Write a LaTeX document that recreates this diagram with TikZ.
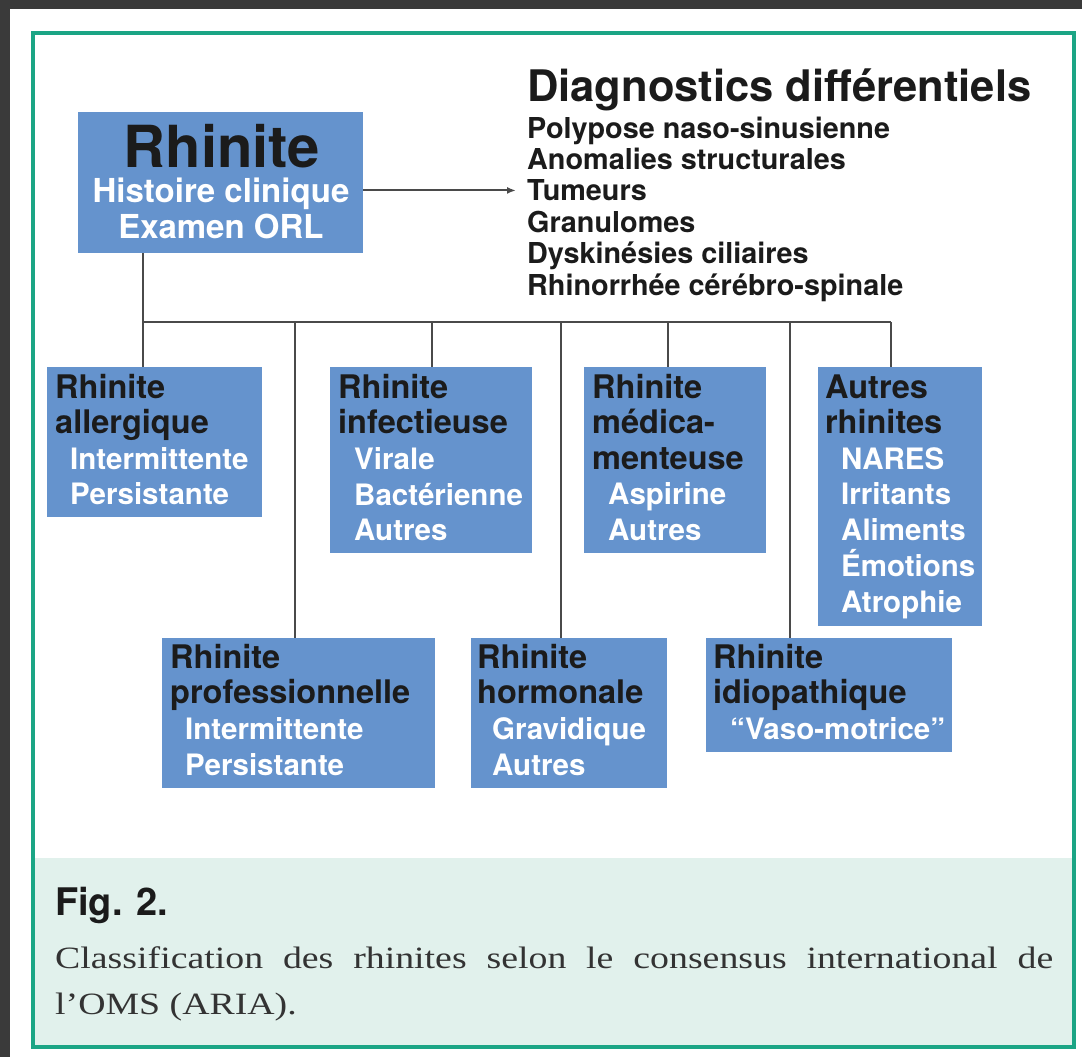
\documentclass[tikz,border=0pt]{standalone}
\usepackage{fontspec}
\setmainfont{TeX Gyre Heros}
\newfontfamily\capserif[FakeStretch=1.22]{Liberation Serif}
\usetikzlibrary{arrows.meta,calc}
\definecolor{boxblue}{HTML}{6593CD}
\definecolor{framegreen}{HTML}{1BA585}
\definecolor{capfill}{HTML}{E1F1EC}
\definecolor{darkbg}{HTML}{3A3A3A}
\definecolor{linegray}{HTML}{4A4A4A}
\definecolor{hdcol}{HTML}{1B1B1B}
\newcommand\fhd{\fontsize{32.5}{35}\selectfont\bfseries}
\newcommand\fsub{\fontsize{29.5}{35}\selectfont\bfseries}
\newcommand\fbig{\fontsize{58}{60}\selectfont\bfseries}
\newcommand\fmainsub{\fontsize{33}{36}\selectfont\bfseries}
\newcommand\fdtitle{\fontsize{43.5}{46}\selectfont\bfseries}
\newcommand\fdlist{\fontsize{28.8}{31}\selectfont\bfseries}
\newcommand\ffig{\fontsize{38}{40}\selectfont\bfseries}
\newcommand\fcap{\capserif\fontsize{31}{34}\selectfont}
\begin{document}
\begin{tikzpicture}[x=1pt,y=-1pt,
  box/.style={fill=boxblue, draw=none, anchor=north west, inner sep=0},
  hdr/.style={anchor=base west, inner sep=0, font=\fhd, text=hdcol},
  subi/.style={anchor=base west, inner sep=0, font=\fsub, text=white},
  dl/.style={anchor=base west, inner sep=0, font=\fdlist, text=hdcol},
  conn/.style={draw=linegray, line width=2pt}]
\useasboundingbox (0,0) rectangle (1082,1057);
% page background
\fill[darkbg] (0,0) rectangle (1082,1057);
\fill[white] (10,9) rectangle (1082,1057);
% caption area and frame
\fill[capfill] (32,858) rectangle (1074,1047);
\draw[framegreen, line width=4pt] (32.5,33.5) rectangle (1074,1047);

% main box
\node[box, minimum width=285pt, minimum height=141pt] (main) at (78,112) {};
\node[anchor=base, inner sep=0, font=\fbig, text=hdcol] (mainT) at (222,167) {Rhinite};
\node[anchor=base, inner sep=0, font=\fmainsub, text=white] (mainA) at (221,202) {Histoire clinique};
\node[anchor=base, inner sep=0, font=\fmainsub, text=white] (mainB) at (221,238) {Examen ORL};

% differential diagnoses
\node[anchor=base west, inner sep=0, font=\fdtitle, text=hdcol] (dtitle) at (527,101) {Diagnostics différentiels};
\node[dl] (d1) at (527,138) {Polypose naso-sinusienne};
\node[dl] (d2) at (527,169.4) {Anomalies structurales};
\node[dl] (d3) at (527,200.8) {Tumeurs};
\node[dl] (d4) at (527,232.2) {Granulomes};
\node[dl] (d5) at (527,263.6) {Dyskinésies ciliaires};
\node[dl] (d6) at (527,295) {Rhinorrhée cérébro-spinale};
\draw[conn, -{Latex[length=9pt,width=7pt]}] (main.east |- d3.west) -- ([xshift=-11pt]d3.west);

% category boxes
\node[box, minimum width=215pt, minimum height=150pt] (allerg) at (47,367) {};
\node[hdr] (allergA) at (55,398) {Rhinite};
\node[hdr] (allergB) at (55,433) {allergique};
\node[subi] (allergC) at (70,469) {Intermittente};
\node[subi] (allergD) at (70,504) {Persistante};

\node[box, minimum width=202pt, minimum height=186pt] (infect) at (330,367) {};
\node[hdr] (infectA) at (338,398) {Rhinite};
\node[hdr] (infectB) at (338,433) {infectieuse};
\node[subi] (infectC) at (354,469) {Virale};
\node[subi] (infectD) at (354,505) {Bactérienne};
\node[subi] (infectE) at (354,540) {Autres};

\node[box, minimum width=182pt, minimum height=186pt] (medic) at (584,367) {};
\node[hdr] (medicA) at (592,398) {Rhinite};
\node[hdr] (medicB) at (592,433) {médica-};
\node[hdr] (medicC) at (592,469) {menteuse};
\node[subi] (medicD) at (608,504) {Aspirine};
\node[subi] (medicE) at (608,540) {Autres};

\node[box, minimum width=164pt, minimum height=259pt] (autres) at (818,367) {};
\node[hdr] (autresA) at (825,398) {Autres};
\node[hdr] (autresB) at (825,433) {rhinites};
\node[subi] (autresC) at (841,469) {NARES};
\node[subi] (autresD) at (841,504) {Irritants};
\node[subi] (autresE) at (841,540) {Aliments};
\node[subi] (autresF) at (841,576) {Émotions};
\node[subi] (autresG) at (841,612) {Atrophie};

\node[box, minimum width=273pt, minimum height=150pt] (prof) at (162,638) {};
\node[hdr] (profA) at (170,668) {Rhinite};
\node[hdr] (profB) at (170,703) {professionnelle};
\node[subi] (profC) at (185,739) {Intermittente};
\node[subi] (profD) at (185,775) {Persistante};

\node[box, minimum width=196pt, minimum height=150pt] (horm) at (471,638) {};
\node[hdr] (hormA) at (477,668) {Rhinite};
\node[hdr] (hormB) at (477,703) {hormonale};
\node[subi] (hormC) at (492,739) {Gravidique};
\node[subi] (hormD) at (492,775) {Autres};

\node[box, minimum width=246pt, minimum height=114pt] (idio) at (706,638) {};
\node[hdr] (idioA) at (713,668) {Rhinite};
\node[hdr] (idioB) at (713,703) {idiopathique};
\node[subi] (idioC) at (730,739) {“Vaso-motrice”};

% connectors
\coordinate (b0) at (143,322);
\coordinate (bP) at (295,322);
\coordinate (bI) at (432,322);
\coordinate (bH) at (561,322);
\coordinate (bM) at (668,322);
\coordinate (bD) at (790,322);
\coordinate (bA) at (891,322);
\draw[conn] (main.south -| b0) -- (b0) -- (bA);
\draw[conn] (b0) -- (allerg.north -| b0);
\draw[conn] (bP) -- (prof.north -| bP);
\draw[conn] (bI) -- (infect.north -| bI);
\draw[conn] (bH) -- (horm.north -| bH);
\draw[conn] (bM) -- (medic.north -| bM);
\draw[conn] (bD) -- (idio.north -| bD);
\draw[conn] (bA) -- (autres.north -| bA);

% caption
\node[anchor=base west, inner sep=0, font=\ffig, text=hdcol] (fig) at (55,915) {Fig. 2.};
\node[anchor=base west, inner sep=0, font=\fcap, text=black!80] (cap1) at (55,968) {\makebox[998pt][s]{Classification des rhinites selon le consensus international de}};
\node[anchor=base west, inner sep=0, font=\fcap, text=black!80] (cap2) at (55,1014) {l’OMS (ARIA).};
\end{tikzpicture}
\end{document}
